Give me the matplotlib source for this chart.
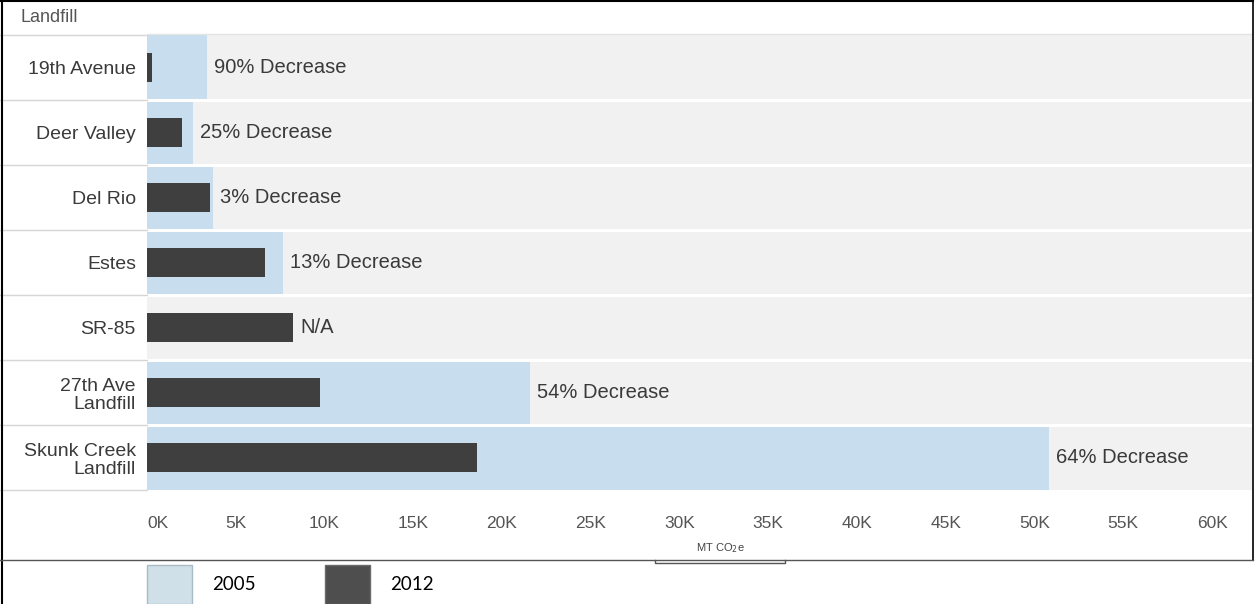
import numpy as np
import matplotlib
matplotlib.use("Agg")
import matplotlib.pyplot as plt
from matplotlib.patches import Rectangle
from matplotlib.lines import Line2D

plt.rcParams['font.family'] = ['Liberation Sans', 'DejaVu Sans']

# ---- data (MT CO2e) ----
landfills = ['19th Avenue', 'Deer Valley', 'Del Rio', 'Estes', 'SR-85',
             '27th Ave\nLandfill', 'Skunk Creek\nLandfill']
v2005 = [3400, 2600, 3700, 7650, np.nan, 21600, 50800]
v2012 = [300, 1950, 3550, 6650, 8250, 9750, 18600]
change_labels = ['90% Decrease', '25% Decrease', '3% Decrease', '13% Decrease',
                 'N/A', '54% Decrease', '64% Decrease']
ticks = [0, 5000, 10000, 15000, 20000, 25000, 30000, 35000, 40000, 45000,
         50000, 55000, 60000]
tick_labels = ['0K', '5K', '10K', '15K', '20K', '25K', '30K', '35K', '40K',
               '45K', '50K', '55K', '60K']
legend_labels = ['2005', '2012']

W, H = 1255, 604
C2005 = '#c8dded'
C2012 = '#3f3f3f'
BG = '#f1f1f1'
TXT = '#3a3a3a'

fig = plt.figure(figsize=(W / 100, H / 100), dpi=100)
fig.patch.set_facecolor('white')

def fx(px):
    return px / W

def fy(py):
    return 1 - py / H

ax_left, ax_right, ax_top, ax_bot = 147, 1252, 35, 490
ax = fig.add_axes([fx(ax_left), fy(ax_bot), fx(ax_right) - fx(ax_left),
                   fy(ax_top) - fy(ax_bot)])
ax.set_facecolor(BG)
n = len(landfills)
y = np.arange(n)
px_per_unit = 17.75 / 1000.0
xmax = (ax_right - ax_left) / px_per_unit
ax.set_xlim(0, xmax)
ax.set_ylim(n - 0.5, -0.5)

ax.barh(y, v2005, height=1.0, color=C2005, zorder=2)
ax.barh(y, v2012, height=0.46, color=C2012, zorder=3)

# white row separators
for b in np.arange(n - 1) + 0.5:
    ax.axhline(b, color='white', lw=2.2, zorder=4)

# change labels
for i in range(n):
    end = np.nanmax([v2005[i] if not np.isnan(v2005[i]) else 0, v2012[i]])
    ax.annotate(change_labels[i], (end, i), xytext=(5, 0),
                textcoords='offset points', va='center', ha='left',
                fontsize=14.5, color=TXT, zorder=5)

ax.set_xticks(ticks)
ax.set_xticklabels(tick_labels, fontsize=12.5, color='#555555')
ax.tick_params(axis='x', length=0, pad=19)
tl = ax.get_xticklabels()
tl[0].set_horizontalalignment('left')
ax.set_yticks(y)
ax.set_yticklabels(landfills, fontsize=14, color=TXT, linespacing=1.1)
ax.tick_params(axis='y', length=0, pad=8)
for s in ax.spines.values():
    s.set_visible(False)

# header
fig.text(fx(20), fy(17), 'Landfill', fontsize=13, color='#555555',
         va='center', ha='left')

# axis title
fig.text(fx(720), fy(548), 'MT CO$_2$e', fontsize=8, color='#444444',
         va='center', ha='center')

# left column separators and header line
for b in [35] + [ax_top + (ax_bot - ax_top) * (k + 1) / n for k in range(n)]:
    fig.add_artist(Line2D([fx(0), fx(ax_left)], [fy(b), fy(b)],
                          color='#d6d6d6', lw=1.0))
fig.add_artist(Line2D([fx(ax_left), fx(ax_right)], [fy(34), fy(34)],
                      color='#e4e4e4', lw=1.0))

# outer frame
fig.add_artist(Line2D([fx(1.5), fx(1.5)], [fy(0), fy(604)], color='black', lw=1.5))
fig.add_artist(Line2D([fx(0), fx(1253)], [fy(1), fy(1)], color='black', lw=1.5))
fig.add_artist(Line2D([fx(1253), fx(1253)], [fy(0), fy(560)], color='black', lw=1.2))
fig.add_artist(Line2D([fx(0), fx(1253)], [fy(560), fy(560)], color='#555555', lw=1.0))
fig.add_artist(Line2D([fx(655), fx(655), fx(785), fx(785)],
                      [fy(560), fy(563), fy(563), fy(560)], color='#555555', lw=1.0))

# legend
fig.add_artist(Rectangle((fx(147), fy(604)), fx(192) - fx(147), fy(565) - fy(604),
                         facecolor='#cfe0e8', edgecolor='#a9bcc6', lw=1.0))
fig.add_artist(Rectangle((fx(325), fy(604)), fx(370) - fx(325), fy(565) - fy(604),
                         facecolor='#4e4e4e', edgecolor='#6a6a6a', lw=1.0))
fig.text(fx(212), fy(585), legend_labels[0], fontsize=13.5, family=['Lato', 'DejaVu Sans'],
         color='black', va='center', ha='left')
fig.text(fx(390), fy(585), legend_labels[1], fontsize=13.5, family=['Lato', 'DejaVu Sans'],
         color='black', va='center', ha='left')

fig.savefig('out.png', dpi=100)
